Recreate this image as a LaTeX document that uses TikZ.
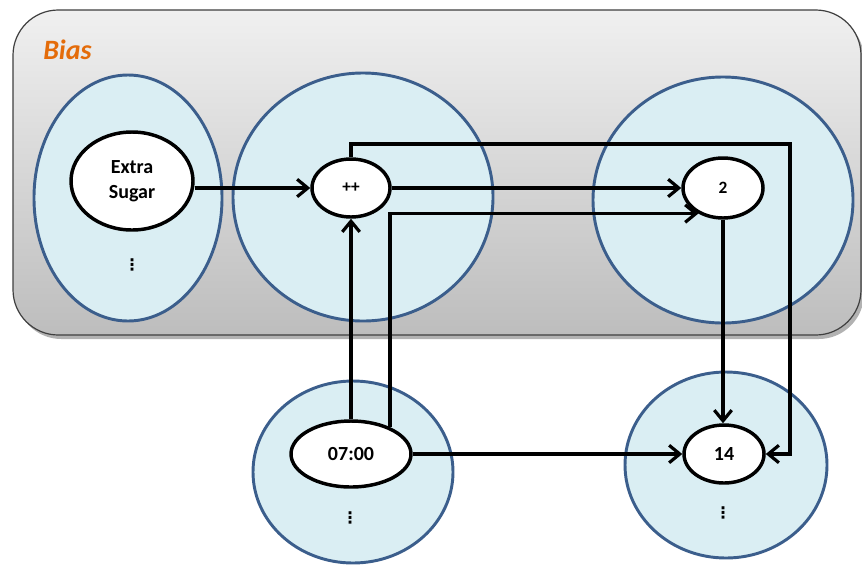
\documentclass[tikz,border=0pt]{standalone}
\usepackage{fontspec}
\setmainfont{Carlito}
\newfontfamily\dejavu{DejaVu Sans}
\usetikzlibrary{shapes.geometric,arrows.meta}
\definecolor{biasorange}{HTML}{E46C0A}
\definecolor{cellfill}{HTML}{DAEEF3}
\definecolor{celledge}{HTML}{3B5E8C}
\definecolor{bgtop}{HTML}{F0F0F0}
\definecolor{bgbot}{HTML}{BDBDBD}
\definecolor{bgedge}{HTML}{3F3F3F}
\begin{document}
\begin{tikzpicture}[x=0.75pt,y=-0.75pt,
  cell/.style={ellipse,draw=celledge,fill=cellfill,line width=2.2pt,inner sep=0pt},
  val/.style={ellipse,draw=black,fill=white,line width=2.6pt,inner sep=0pt,font=\bfseries\fontsize{15}{19}\selectfont,align=center},
  small/.style={font=\bfseries\fontsize{13}{13}\selectfont},
  dots/.style={font=\dejavu\bfseries\fontsize{12}{12}\selectfont,inner sep=0pt},
  arr/.style={line width=2.8pt,-{Straight Barb[length=2.8mm,width=4.6mm,line width=2.4pt]}}
]
\useasboundingbox (0,0) rectangle (862,565);
% background group
\fill[black!30,rounded corners=34pt] (16,14) rectangle (864,339);
\node[draw=bgedge,line width=0.9pt,rounded corners=34pt,top color=bgtop,bottom color=bgbot,
  minimum width=848*0.75pt,minimum height=325*0.75pt,inner sep=0pt] (bg) at (437,172.5) {};
\node[font=\bfseries\itshape\fontsize{21}{21}\selectfont,text=biasorange,anchor=west,inner sep=0pt] (bias) at (43,50) {Bias};
% cells
\node[cell,minimum width=188*0.75pt,minimum height=246*0.75pt] (c1) at (128,198) {};
\node[cell,minimum width=260*0.75pt,minimum height=248*0.75pt] (c2) at (363,197) {};
\node[cell,minimum width=260*0.75pt,minimum height=246*0.75pt] (c3) at (723,200) {};
\node[cell,minimum width=200*0.75pt,minimum height=182*0.75pt] (c4) at (353,472) {};
\node[cell,minimum width=202*0.75pt,minimum height=186*0.75pt] (c5) at (726,465) {};
% values
\node[val,minimum width=122*0.75pt,minimum height=98*0.75pt] (sugar) at (132,181) {Extra\\Sugar};
\node[val,small,minimum width=78*0.75pt,minimum height=58*0.75pt] (pp) at (351,188) {++};
\node[val,small,minimum width=80*0.75pt,minimum height=60*0.75pt] (two) at (723,188) {2};
\node[val,minimum width=120*0.75pt,minimum height=66*0.75pt] (seven) at (351,454) {07:00};
\node[val,minimum width=80*0.75pt,minimum height=58*0.75pt] (fourteen) at (724,454) {14};
% dots
\node[dots] (d1) at (132,265) {⋮};
\node[dots] (d4) at (350,518) {⋮};
\node[dots] (d5) at (723,513) {⋮};
% corner coordinates
\coordinate (k1) at (790,144);
% connectors
\draw[arr] (sugar.east |- pp.west) -- (pp.west);
\draw[arr] (pp.east) -- (two.west);
\draw[arr] (pp.north) |- (k1) |- (fourteen.east);
\draw[arr] (seven.north) -- (pp.south);
\draw[arr] (seven.35) |- (two.226);
\draw[arr] (two.south) -- (two.south |- fourteen.north);
\draw[arr] (seven.east) -- (fourteen.west);
\end{tikzpicture}
\end{document}
